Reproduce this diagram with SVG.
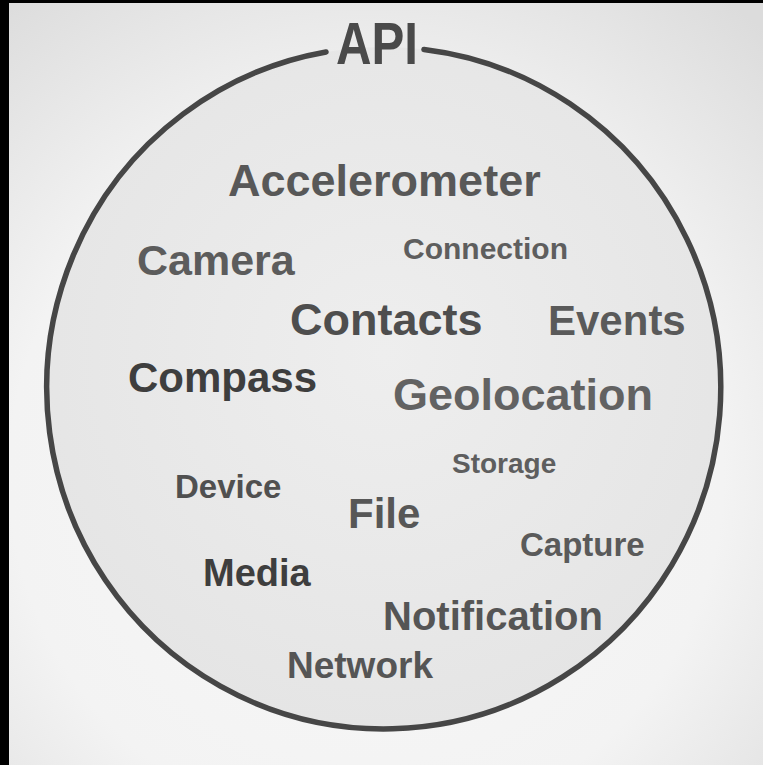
<svg xmlns="http://www.w3.org/2000/svg" width="763" height="765" viewBox="0 0 763 765">
  <defs>
    <radialGradient id="bg" cx="0.48" cy="0.62" r="0.78">
      <stop offset="0" stop-color="#f8f8f8"/>
      <stop offset="0.6" stop-color="#f3f3f3"/>
      <stop offset="1" stop-color="#dcdcdc"/>
    </radialGradient>
    <radialGradient id="inner" cx="0.5" cy="0.45" r="0.55">
      <stop offset="0" stop-color="#eeeeee"/>
      <stop offset="1" stop-color="#e5e5e5"/>
    </radialGradient>
    <style>
      .w { font-family: "Liberation Sans", Arial, Helvetica, sans-serif; font-weight: bold; }
      .ring { fill: none; stroke: #464646; stroke-width: 5.5; stroke-linecap: round; }
    </style>
  </defs>
  <rect x="0" y="0" width="763" height="765" fill="url(#bg)"/>
  <rect x="0" y="0" width="9" height="765" fill="#000"/>
  <rect x="0" y="0" width="763" height="3" fill="#000"/>

  <g id="circle">
    <ellipse cx="384" cy="388" rx="337" ry="341" fill="url(#inner)"/>
    <path class="ring" d="M 424 49.4 A 337 341 0 1 1 326 52"/>
  </g>

  <g id="title">
    <text class="w" x="377" y="64" font-size="59" fill="#4a4a4a" text-anchor="middle" textLength="82" lengthAdjust="spacingAndGlyphs">API</text>
  </g>

  <g id="nodes">
    <g id="accelerometer"><text class="w" x="228" y="196" font-size="45" fill="#585858">Accelerometer</text></g>
    <g id="camera"><text class="w" x="137" y="275" font-size="43" fill="#5c5c5c">Camera</text></g>
    <g id="connection"><text class="w" x="403" y="259" font-size="30" fill="#5e5e5e">Connection</text></g>
    <g id="contacts"><text class="w" x="290" y="335" font-size="45" fill="#4e4e4e">Contacts</text></g>
    <g id="events"><text class="w" x="548" y="335" font-size="42" fill="#5a5a5a">Events</text></g>
    <g id="compass"><text class="w" x="128" y="392" font-size="42" fill="#3e3e3e">Compass</text></g>
    <g id="geolocation"><text class="w" x="393" y="410" font-size="45" fill="#626262">Geolocation</text></g>
    <g id="storage"><text class="w" x="452" y="473" font-size="28" fill="#5e5e5e">Storage</text></g>
    <g id="device"><text class="w" x="175" y="498" font-size="33" fill="#505050">Device</text></g>
    <g id="file"><text class="w" x="348" y="528" font-size="42" fill="#575757">File</text></g>
    <g id="capture"><text class="w" x="520" y="556" font-size="33" fill="#5a5a5a">Capture</text></g>
    <g id="media"><text class="w" x="203" y="586" font-size="38" fill="#3e3e3e">Media</text></g>
    <g id="notification"><text class="w" x="383" y="630" font-size="40" fill="#555555">Notification</text></g>
    <g id="network"><text class="w" x="287" y="678" font-size="37" fill="#555555">Network</text></g>
  </g>
  <g id="connectors"></g>
</svg>
